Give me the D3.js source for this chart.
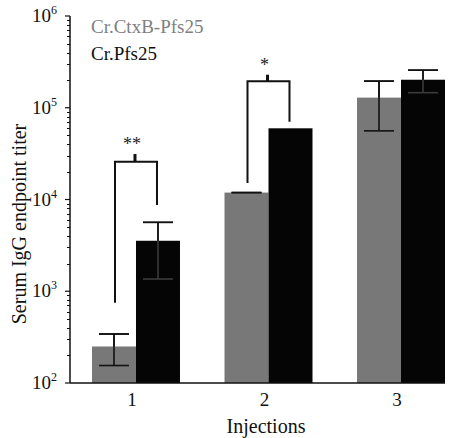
<!DOCTYPE html>
<html>
<head>
<meta charset="utf-8">
<script src="https://cdn.jsdelivr.net/npm/d3@7"></script>
<style>
body{margin:0;background:#fff;}
svg text{font-family:"Liberation Serif","Times New Roman",serif;}
</style>
</head>
<body>
<svg id="chart" width="454" height="438"></svg>
<script>
// ---- data ----
const categories = ["1", "2", "3"];
const seriesNames = ["Cr.CtxB-Pfs25", "Cr.Pfs25"];
const seriesColors = ["#787878", "#050505"];
const ctxbValues = [250, 11900, 129000];
const ctxbLow = [155, 11900, 56000];
const ctxbHigh = [342, 11900, 195000];
const pfsValues = [3550, 59700, 202000];
const pfsLow = [1360, 59700, 146000];
const pfsHigh = [5640, 59700, 257000];
const yTickExponents = [2, 3, 4, 5, 6];
const sigLabels = ["**", "*"];
const sigLeftBottom = [750, 15100];
const sigRightBottom = [8700, 70500];
const sigTop = [25800, 194000];
const sigTickTop = [31300, 229000];
const xTitle = "Injections";
const yTitle = "Serum IgG endpoint titer";

// ---- layout ----
const svg = d3.select("#chart");
const mLeft = 70, mRight = 445, mTop = 16, mBottom = 383;

const y = d3.scaleLog().domain([1e2, 1e6]).range([mBottom, mTop]);
const x = d3.scaleBand().domain(categories).range([mLeft, mRight])
  .paddingInner(0.336).paddingOuter(0.083).align(1);
const xs = d3.scaleBand().domain([0, 1]).range([0, x.bandwidth()]);

const series = [
  {values: ctxbValues, low: ctxbLow, high: ctxbHigh},
  {values: pfsValues, low: pfsLow, high: pfsHigh}
];

// bars
series.forEach((s, si) => {
  svg.append("g").selectAll("rect").data(categories).join("rect")
    .attr("x", c => x(c) + xs(si))
    .attr("width", xs.bandwidth())
    .attr("y", (c, i) => y(s.values[i]))
    .attr("height", (c, i) => mBottom - y(s.values[i]))
    .attr("fill", seriesColors[si]);
});

// error bars
const capW = 30;
series.forEach((s, si) => {
  const g = svg.append("g").attr("stroke", si === 0 ? "#111" : "#3a3a3a").attr("stroke-width", 1.6).attr("fill", "none");
  categories.forEach((c, i) => {
    if (si === 1 && s.low[i] === s.high[i]) return;
    const cx = x(c) + xs(si) + xs.bandwidth() / 2;
    g.append("line").attr("x1", cx).attr("x2", cx).attr("y1", y(s.low[i])).attr("y2", y(s.high[i]));
    g.append("line").attr("x1", cx - capW / 2).attr("x2", cx + capW / 2).attr("y1", y(s.high[i])).attr("y2", y(s.high[i]));
    g.append("line").attr("x1", cx - capW / 2).attr("x2", cx + capW / 2).attr("y1", y(s.low[i])).attr("y2", y(s.low[i]));
  });
});
// redraw upper part of error bars above the bars in dark
series.forEach((s, si) => {
  const g = svg.append("g").attr("stroke", "#111").attr("stroke-width", 1.6);
  categories.forEach((c, i) => {
    const cx = x(c) + xs(si) + xs.bandwidth() / 2;
    if (s.high[i] > s.values[i]) {
      g.append("line").attr("x1", cx).attr("x2", cx).attr("y1", y(s.values[i])).attr("y2", y(s.high[i]));
      g.append("line").attr("x1", cx - capW / 2).attr("x2", cx + capW / 2).attr("y1", y(s.high[i])).attr("y2", y(s.high[i]));
    }
  });
});

// significance brackets
sigLabels.forEach((lab, i) => {
  const c = categories[i];
  const xl = x(c) + xs(0) + xs.bandwidth() / 2 + 1;
  const xr = x(c) + xs(1) + xs.bandwidth() / 2 - 1;
  const xm = x(c) + x.bandwidth() / 2 - 1;
  const yt = y(sigTop[i]);
  svg.append("path")
    .attr("d", `M${xl},${y(sigLeftBottom[i])}V${yt}H${xr}V${y(sigRightBottom[i])}`)
    .attr("fill", "none").attr("stroke", "#111").attr("stroke-width", 2);
  svg.append("line").attr("x1", xm).attr("x2", xm).attr("y1", yt).attr("y2", y(sigTickTop[i]))
    .attr("stroke", "#111").attr("stroke-width", 3);
  svg.append("text").attr("x", xm - 3).attr("y", y(sigTickTop[i]) - 4)
    .attr("text-anchor", "middle").attr("font-size", 18).attr("fill", "#222").text(lab);
});

// y axis with minor ticks
const minor = [];
for (let e = 2; e < 6; e++) for (let k = 2; k <= 9; k++) minor.push(k * Math.pow(10, e));
svg.append("g").attr("stroke", "#111").attr("stroke-width", 1)
  .selectAll("line").data(minor).join("line")
  .attr("x1", mLeft - 3).attr("x2", mLeft).attr("y1", d => Math.round(y(d)) + 0.5).attr("y2", d => Math.round(y(d)) + 0.5);
svg.append("g").attr("stroke", "#111").attr("stroke-width", 1.2)
  .selectAll("line").data(yTickExponents).join("line")
  .attr("x1", mLeft - 5).attr("x2", mLeft).attr("y1", d => y(Math.pow(10, d))).attr("y2", d => y(Math.pow(10, d)));
svg.append("line").attr("x1", mLeft).attr("x2", mLeft).attr("y1", mTop).attr("y2", mBottom)
  .attr("stroke", "#111").attr("stroke-width", 1.5);

const yl = svg.append("g").selectAll("text").data(yTickExponents).join("text")
  .attr("x", 32).attr("y", d => y(Math.pow(10, d)) + 6)
  .attr("font-size", 19).attr("fill", "#111");
yl.append("tspan").text("10");
yl.append("tspan").attr("font-size", 12).attr("dy", -8).text(d => d);

// x axis
svg.append("line").attr("x1", mLeft).attr("x2", mRight).attr("y1", mBottom).attr("y2", mBottom)
  .attr("stroke", "#111").attr("stroke-width", 1.5);
const xAxis = svg.append("g").attr("transform", `translate(0,${mBottom})`)
  .call(d3.axisBottom(x).tickSize(0).tickPadding(10));
xAxis.select(".domain").remove();
xAxis.selectAll("text").attr("font-size", 19).attr("fill", "#111").attr("dx", -4)
  .attr("font-family", "Liberation Serif, serif");

// titles
svg.append("text").attr("x", 266).attr("y", 433).attr("text-anchor", "middle")
  .attr("font-size", 20).attr("fill", "#111").text(xTitle);
svg.append("text").attr("transform", "translate(26,224) rotate(-90)").attr("text-anchor", "middle")
  .attr("font-size", 20).attr("fill", "#111").text(yTitle);

// legend
const legendY = [33, 60];
svg.append("g").selectAll("text").data(seriesNames).join("text")
  .attr("x", 91).attr("y", (d, i) => legendY[i])
  .attr("font-size", 19).attr("fill", (d, i) => i === 0 ? "#808080" : "#111").text(d => d);
</script>
</body>
</html>
